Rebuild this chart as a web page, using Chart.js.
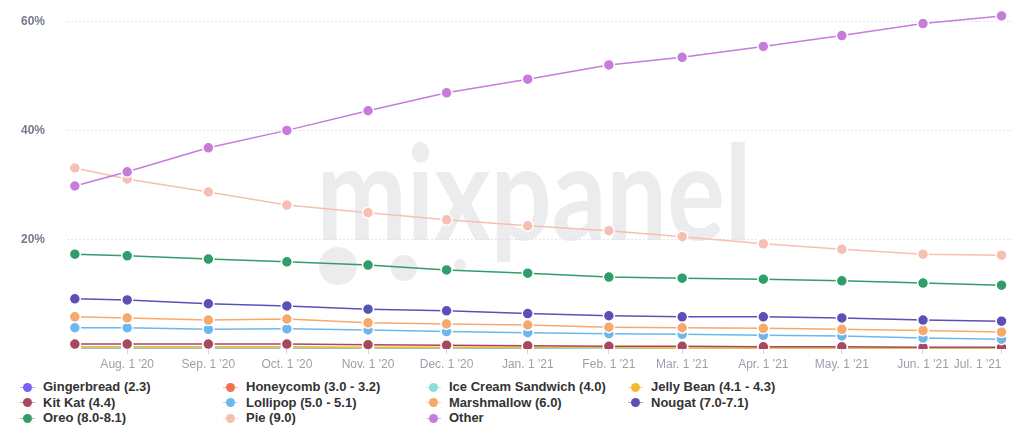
<!DOCTYPE html>
<html>
<head>
<meta charset="utf-8">
<script src="https://cdn.jsdelivr.net/npm/chart.js@4"></script>
<style>
  html, body { margin: 0; padding: 0; background: #fff; }
  body { width: 1024px; height: 436px; overflow: hidden; position: relative; font-family: "Liberation Sans", Arial, sans-serif; }
  #wrap { position: absolute; left: 0; top: 0; width: 1024px; height: 372px; }
  #legend { position: absolute; left: 20px; top: 379px; display: grid; grid-template-columns: 203px 203px 202px 200px; row-gap: 0; }
  .item { display: flex; align-items: center; height: 15.5px; font-weight: bold; font-size: 13px; color: #333; white-space: nowrap; }
  .mk { position: relative; width: 15px; height: 10px; margin-right: 8px; flex: none; }
  .mk .ln { position: absolute; left: 0; right: 0; top: 5px; border-top: 1px dashed; opacity: 0.55; }
  .mk .dt { position: absolute; left: 3px; top: 1px; width: 9px; height: 9px; border-radius: 50%; }
</style>
</head>
<body>
<div id="wrap"><canvas id="chart"></canvas></div>
<div id="legend"></div>
<script>
// sample dates (first one is mid-July)
const dates = ['2020-07-12', '2020-08-01', '2020-09-01', '2020-10-01', '2020-11-01', '2020-12-01',
  '2021-01-01', '2021-02-01', '2021-03-01', '2021-04-01', '2021-05-01', '2021-06-01', '2021-07-01'];
const tickLabels = ['', "Aug. 1 '20", "Sep. 1 '20", "Oct. 1 '20", "Nov. 1 '20", "Dec. 1 '20",
  "Jan. 1 '21", "Feb. 1 '21", "Mar. 1 '21", "Apr. 1 '21", "May. 1 '21", "Jun. 1 '21", "Jul. 1 '21"];
const yTicks = [0, 20, 40, 60];

const names = ['Gingerbread (2.3)', 'Honeycomb (3.0 - 3.2)', 'Ice Cream Sandwich (4.0)', 'Jelly Bean (4.1 - 4.3)',
  'Kit Kat (4.4)', 'Lollipop (5.0 - 5.1)', 'Marshmallow (6.0)', 'Nougat (7.0-7.1)',
  'Oreo (8.0-8.1)', 'Pie (9.0)', 'Other'];
const colors = ['#7b5ff0', '#f0704f', '#8fdcd4', '#f4b935', '#a6485f', '#6cb8ec', '#f6a96c', '#5b50b6',
  '#2f9e6a', '#f6bfb1', '#c67cd9'];

const gingerbread = [0.1, 0.1, 0.1, 0.1, 0.1, 0.1, 0.1, 0.0, 0.0, 0.0, 0.0, 0.0, 0.0];
const honeycomb = [0.0, 0.0, 0.0, 0.0, 0.0, 0.0, 0.0, 0.0, 0.0, 0.0, 0.0, 0.0, 0.0];
const iceCream = [0.2, 0.2, 0.2, 0.2, 0.2, 0.2, 0.2, 0.1, 0.1, 0.1, 0.1, 0.1, 0.1];
const jellyBean = [0.4, 0.4, 0.4, 0.4, 0.3, 0.3, 0.3, 0.3, 0.2, 0.2, 0.2, 0.2, 0.2];
const kitKat = [0.9, 0.9, 0.9, 0.9, 0.8, 0.7, 0.6, 0.5, 0.5, 0.4, 0.4, 0.3, 0.3];
const lollipop = [3.9, 3.9, 3.6, 3.7, 3.5, 3.2, 3.0, 2.8, 2.7, 2.5, 2.4, 2.0, 1.8];
const marshmallow = [5.9, 5.7, 5.3, 5.5, 4.8, 4.6, 4.4, 4.0, 3.9, 3.8, 3.6, 3.4, 3.1];
const nougat = [9.2, 9.0, 8.3, 7.9, 7.3, 7.0, 6.5, 6.1, 5.9, 5.9, 5.7, 5.3, 5.1];
const oreo = [17.4, 17.1, 16.5, 16.0, 15.4, 14.5, 13.9, 13.2, 13.0, 12.8, 12.5, 12.1, 11.7];
const pie = [33.2, 31.2, 28.8, 26.4, 25.0, 23.7, 22.6, 21.7, 20.6, 19.3, 18.3, 17.4, 17.2];
const other = [29.9, 32.5, 36.9, 40.1, 43.7, 47.0, 49.5, 52.1, 53.5, 55.5, 57.5, 59.7, 61.1];

const series = [gingerbread, honeycomb, iceCream, jellyBean, kitKat, lollipop, marshmallow, nougat, oreo, pie, other];

const dayNum = s => Date.UTC(+s.slice(0, 4), +s.slice(5, 7) - 1, +s.slice(8, 10)) / 864e5;
const days = dates.map(dayNum);

const datasets = series.map((vals, i) => ({
  label: names[i],
  data: vals.map((v, j) => ({ x: days[j], y: v })),
  borderColor: colors[i],
  backgroundColor: colors[i],
  pointBackgroundColor: colors[i],
  pointBorderColor: '#fff',
  pointBorderWidth: 1.5,
  pointRadius: 5.5,
  borderWidth: 1.5,
  tension: 0,
  order: series.length - i   // later series drawn on top
}));

// faint "mixpanel" watermark behind the lines
const watermark = {
  id: 'watermark',
  beforeDraw(chart) {
    const ctx = chart.ctx;
    ctx.save();
    ctx.fillStyle = '#ececee';
    ctx.font = 'bold 100px Lato';
    const w = ctx.measureText('mixpanel').width;
    ctx.font = 'bold ' + (100 * 435 / w) + 'px Lato';
    ctx.textBaseline = 'alphabetic';
    ctx.textAlign = 'center';
    ctx.translate(534, 240);
    ctx.scale(1, 1.22);
    ctx.fillText('mixpanel', 0, 0);
    ctx.restore();
    ctx.save();
    ctx.fillStyle = '#ececee';
    [[338, 266, 19], [404, 268, 13], [460, 265, 6]].forEach(([x, y, r]) => {
      ctx.beginPath();
      ctx.arc(x, y, r, 0, Math.PI * 2);
      ctx.fill();
    });
    ctx.restore();
  }
};

new Chart(document.getElementById('chart'), {
  type: 'line',
  data: { datasets },
  options: {
    responsive: true,
    maintainAspectRatio: false,
    animation: false,
    layout: { padding: { top: 11, right: 12, left: 0, bottom: 0 } },
    plugins: { legend: { display: false }, tooltip: { enabled: false } },
    scales: {
      x: {
        type: 'linear',
        min: days[0] - 3,
        max: days[days.length - 1] + 4,
        afterBuildTicks: axis => { axis.ticks = days.map(d => ({ value: d })); },
        afterFit: axis => {
          axis.paddingLeft = 0; axis.paddingRight = 0;
          axis.paddingTop = 0; axis.paddingBottom = 0;
          axis.height = 23;
        },
        ticks: {
          autoSkip: false,
          maxRotation: 0,
          align: 'inner',
          padding: 3,
          color: '#9a9fab',
          font: { family: 'Liberation Sans', size: 12 },
          callback: (v, i) => tickLabels[i]
        },
        grid: {
          drawOnChartArea: false,
          tickLength: 5,
          color: c => (c.index === 0 ? 'transparent' : '#d6d8dd')
        },
        border: { display: false }
      },
      y: {
        min: 0,
        max: 62,
        afterBuildTicks: axis => { axis.ticks = yTicks.map(v => ({ value: v })); },
        afterFit: axis => {
          axis.width = 67;
          axis.paddingTop = 0; axis.paddingBottom = 0;
          axis.paddingLeft = 0; axis.paddingRight = 0;
        },
        ticks: {
          padding: 22,
          color: '#737a8e',
          font: { family: 'Liberation Sans', size: 12, weight: 'bold' },
          callback: v => (v === 0 ? '' : v + '%')
        },
        grid: {
          drawTicks: false,
          color: c => (c.tick && c.tick.value === 0 ? 'transparent' : '#e2e3e7')
        },
        border: { display: false, dash: [2, 2] }
      }
    }
  },
  plugins: [watermark]
});

// legend grid, same row-major order as the series
const legend = document.getElementById('legend');
names.forEach((n, i) => {
  const item = document.createElement('div');
  item.className = 'item';
  item.innerHTML = '<span class="mk"><span class="ln" style="border-color:' + colors[i] +
    '"></span><span class="dt" style="background:' + colors[i] + '"></span></span>' + n;
  legend.appendChild(item);
});
</script>
</body>
</html>
